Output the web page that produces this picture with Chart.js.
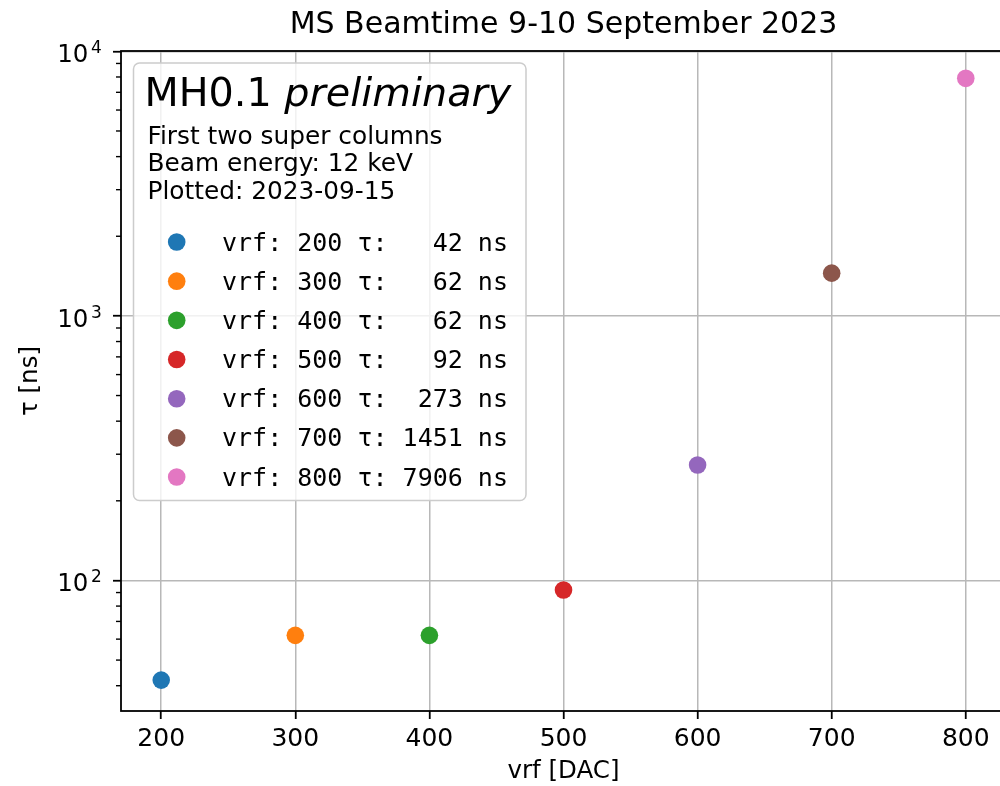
<!DOCTYPE html>
<html lang="en">
<head>
<meta charset="UTF-8">
<title>MS Beamtime 9-10 September 2023</title>
<script src="https://cdn.jsdelivr.net/npm/chart.js"></script>
<style>
    body {
        margin: 0;
        padding: 0;
        background: #ffffff;
        overflow: hidden;
    }

    .wrap {
        width: 1012px;
        height: 786px;
    }
</style>
</head>
<body>
<div class="wrap"><canvas id="tauChart" width="1012" height="786"></canvas></div>

<script>
    // decay time per vrf setting
    const vrfValues = [200, 300, 400, 500, 600, 700, 800];
    const tauValues = [42, 62, 62, 92, 273, 1451, 7906];
    const pointColors = ['#1f77b4', '#ff7f0e', '#2ca02c', '#d62728', '#9467bd', '#8c564b', '#e377c2'];

    // axis ticks
    const xTicks = [200, 300, 400, 500, 600, 700, 800];
    const yMajorTicks = [100, 1000, 10000];
    const yExponents = ['2', '3', '4'];
    const yMinorTicks = [40, 50, 60, 70, 80, 90,
        200, 300, 400, 500, 600, 700, 800, 900,
        2000, 3000, 4000, 5000, 6000, 7000, 8000, 9000];

    // legend text
    const legendHeader = 'MH0.1';
    const legendHeaderItalic = 'preliminary';
    const legendNotes = ['First two super columns', 'Beam energy: 12 keV', 'Plotted: 2023-09-15'];

    const SANS = '"DejaVu Sans", sans-serif';
    const MONO = '"DejaVu Sans Mono", monospace';

    const datasets = vrfValues.map((v, i) => ({
        label: `vrf: ${v} τ: ${String(tauValues[i]).padStart(4, ' ')} ns`,
        data: [{ x: v, y: tauValues[i] }],
        backgroundColor: pointColors[i],
        borderWidth: 0,
        pointRadius: 8.8,
        pointHoverRadius: 8.8
    }));

    const isMajor = v => yMajorTicks.includes(v);

    // frame, minor ticks, 10^n labels and the boxed legend
    const decorations = {
        id: 'decorations',
        afterDatasetsDraw(chart) {
            const { ctx, chartArea, scales } = chart;
            ctx.save();

            // minor ticks on the log axis
            ctx.strokeStyle = '#000';
            ctx.lineWidth = 1.4;
            yMinorTicks.forEach(v => {
                const py = scales.y.getPixelForValue(v);
                ctx.beginPath();
                ctx.moveTo(chartArea.left - 5, py);
                ctx.lineTo(chartArea.left, py);
                ctx.stroke();
            });

            // spines
            ctx.lineWidth = 1.8;
            ctx.strokeRect(chartArea.left, chartArea.top, chartArea.right - chartArea.left, chartArea.bottom - chartArea.top);

            // decade labels with raised exponent
            ctx.fillStyle = '#000';
            ctx.textAlign = 'left';
            ctx.textBaseline = 'alphabetic';
            yMajorTicks.forEach((v, i) => {
                const py = scales.y.getPixelForValue(v);
                ctx.font = '17px ' + SANS;
                const ew = ctx.measureText(yExponents[i]).width;
                const ex = chartArea.left - 19.3 - ew;
                ctx.fillText(yExponents[i], ex, py + 2);
                ctx.font = '24.5px ' + SANS;
                const bw = ctx.measureText('10').width;
                ctx.fillText('10', ex - 2.5 - bw, py + 11);
            });

            // legend box
            const x0 = chartArea.left + 12.5;
            const y0 = chartArea.top + 12;
            ctx.beginPath();
            ctx.roundRect(x0, y0, 392.5, 437.5, 6);
            ctx.fillStyle = 'rgba(255, 255, 255, 0.8)';
            ctx.fill();
            ctx.strokeStyle = '#cccccc';
            ctx.lineWidth = 1.5;
            ctx.stroke();

            ctx.fillStyle = '#000';
            ctx.font = '39.7px ' + SANS;
            const hx = x0 + 11;
            const hy = y0 + 43.3;
            ctx.fillText(legendHeader + ' ', hx, hy);
            const headW = ctx.measureText(legendHeader + ' ').width;
            ctx.font = 'italic 39.7px ' + SANS;
            ctx.fillText(legendHeaderItalic, hx + headW, hy);

            ctx.font = '24.8px ' + SANS;
            legendNotes.forEach((t, i) => {
                ctx.fillText(t, x0 + 14, y0 + 80.5 + i * 27.85);
            });

            ctx.font = '25px ' + MONO;
            chart.data.datasets.forEach((ds, i) => {
                const my = y0 + 179 + i * 39.17;
                ctx.beginPath();
                ctx.arc(x0 + 43.2, my, 8.8, 0, Math.PI * 2);
                ctx.fillStyle = ds.backgroundColor;
                ctx.fill();
                ctx.fillStyle = '#000';
                ctx.fillText(ds.label, x0 + 88.5, my + 8.6);
            });

            ctx.restore();
        }
    };

    new Chart(document.getElementById('tauChart'), {
        type: 'scatter',
        data: { datasets },
        options: {
            responsive: false,
            animation: false,
            devicePixelRatio: 1,
            layout: { autoPadding: false, padding: { top: 0, right: 6, bottom: 0, left: 0 } },
            plugins: {
                legend: { display: false },
                tooltip: { enabled: false },
                title: {
                    display: true,
                    fullSize: false,
                    text: 'MS Beamtime 9-10 September 2023',
                    color: '#000',
                    font: { family: SANS, size: 30, weight: 'normal' },
                    padding: { top: 7.5, bottom: 7.5 }
                }
            },
            scales: {
                x: {
                    type: 'linear',
                    min: 170,
                    max: 830,
                    afterBuildTicks: s => { s.ticks = xTicks.map(v => ({ value: v })); },
                    afterFit: s => { s.height = 75; },
                    ticks: {
                        color: '#000',
                        font: { family: SANS, size: 25 },
                        padding: 5,
                        autoSkip: false,
                        maxRotation: 0,
                        callback: v => String(v)
                    },
                    grid: {
                        color: '#b8b8b8',
                        lineWidth: 1.5,
                        tickColor: '#000',
                        tickLength: 8,
                        tickWidth: 1.8
                    },
                    border: { display: false },
                    title: {
                        display: true,
                        text: 'vrf [DAC]',
                        color: '#000',
                        font: { family: SANS, size: 24.5 },
                        padding: { top: 0, bottom: 0 }
                    }
                },
                y: {
                    type: 'logarithmic',
                    min: 32.1,
                    max: 10030,
                    afterBuildTicks: s => { s.ticks = yMinorTicks.concat(yMajorTicks).sort((a, b) => a - b).map(v => ({ value: v })); },
                    afterFit: s => { s.width = 121; },
                    ticks: {
                        autoSkip: false,
                        callback: () => ''
                    },
                    grid: {
                        color: c => (c.tick && isMajor(c.tick.value)) ? '#b8b8b8' : 'rgba(0,0,0,0)',
                        lineWidth: 1.5,
                        tickColor: c => (c.tick && isMajor(c.tick.value)) ? '#000' : 'rgba(0,0,0,0)',
                        tickLength: 8,
                        tickWidth: 1.8
                    },
                    border: { display: false },
                    title: {
                        display: true,
                        text: 'τ [ns]',
                        color: '#000',
                        font: { family: SANS, size: 24.5 },
                        padding: { top: 16, bottom: 0 }
                    }
                }
            }
        },
        plugins: [decorations]
    });
</script>
</body>
</html>
